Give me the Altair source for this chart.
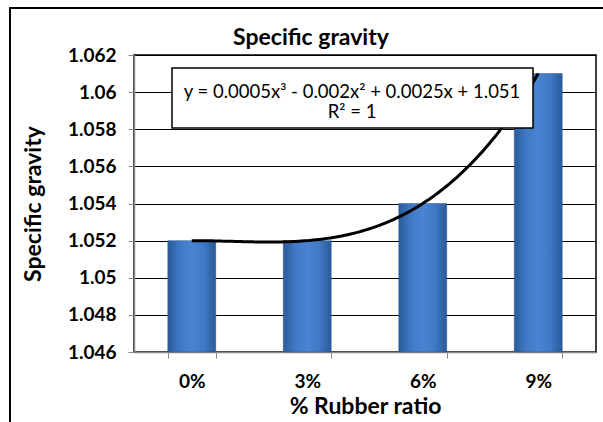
import altair as alt
import pandas as pd
import numpy as np

categories = ["0%", "3%", "6%", "9%"]
values = [1.052, 1.052, 1.054, 1.061]
# trendline coefficients shown in the chart: y = a x^3 + b x^2 + c x + d
coeffs = [0.0005, -0.002, 0.0025, 1.051]
y_ticks = [1.046, 1.048, 1.05, 1.052, 1.054, 1.056, 1.058, 1.06, 1.062]
title_text = "Specific gravity"
eq_text = "y = 0.0005x³ - 0.002x² + 0.0025x + 1.051"
r2_text = "R² = 1"

FONT = "Lato"

bars_df = pd.DataFrame({"cat": categories, "val": values})
xs = np.linspace(1, len(categories), 121)
trend_df = pd.DataFrame({"xq": xs, "yq": np.polyval(coeffs, xs)})

W, H = 462, 297
ydom = [y_ticks[0], y_ticks[-1]]

y_axis = alt.Axis(values=y_ticks, format=".3~f", title="Specific gravity",
                  labelOverlap=False, tickCount=9,
                  titleFont=FONT, titleFontSize=23, titleFontWeight="bold",
                  titleColor="black", titlePadding=22,
                  labelFont=FONT, labelFontSize=19, labelFontWeight="bold",
                  labelColor="black", labelPadding=12,
                  tickSize=6, tickColor="#888888", domainColor="#888888",
                  domainWidth=1.5, gridColor="black", gridWidth=1)
y_scale = alt.Scale(domain=ydom, zero=False, nice=False)

bars = alt.Chart(bars_df).mark_bar(
    color=alt.Gradient(gradient="linear", x1=0, x2=1, y1=0, y2=0,
                       stops=[alt.GradientStop(color="#2b5a98", offset=0),
                              alt.GradientStop(color="#3f79c6", offset=0.25),
                              alt.GradientStop(color="#4a84d2", offset=0.5),
                              alt.GradientStop(color="#3f79c6", offset=0.75),
                              alt.GradientStop(color="#2b5a98", offset=1)]),
    stroke="#2a5590", strokeWidth=0.5
).encode(
    x=alt.X("cat:N", sort=categories,
            scale=alt.Scale(paddingInner=0.585, paddingOuter=0.2925),
            axis=alt.Axis(title="% Rubber ratio", labelAngle=0,
                          titleFont=FONT, titleFontSize=23, titleFontWeight="bold",
                          titleColor="black", titlePadding=4,
                          labelFont=FONT, labelFontSize=19, labelFontWeight="bold",
                          labelColor="black", labelPadding=14,
                          tickSize=6, tickColor="#888888", tickBand="extent",
                          domainColor="#888888", domainWidth=1.5, grid=False)),
    y=alt.Y("val:Q", scale=y_scale, axis=y_axis),
    y2=alt.datum(y_ticks[0]),
)

trend = alt.Chart(trend_df).mark_line(color="black", strokeWidth=3).encode(
    x=alt.X("xq:Q", scale=alt.Scale(domain=[0.5, len(categories) + 0.5], nice=False, zero=False),
            axis=None),
    y=alt.Y("yq:Q", scale=y_scale, axis=y_axis),
)

one = pd.DataFrame({"a": [0]})
box = alt.Chart(one).mark_rect(fill="white", stroke="black", strokeWidth=1.5).encode(
    x=alt.value(38), x2=alt.value(399), y=alt.value(13), y2=alt.value(73))
eq1 = alt.Chart(one).mark_text(font=FONT, fontSize=18.5, color="black",
                               align="center", baseline="middle").encode(
    x=alt.value(218), y=alt.value(37), text=alt.value(eq_text))
eq2 = alt.Chart(one).mark_text(font=FONT, fontSize=18.5, color="black",
                               align="center", baseline="middle").encode(
    x=alt.value(218), y=alt.value(57), text=alt.value(r2_text))
ttl = alt.Chart(one).mark_text(font=FONT, fontSize=23, fontWeight="bold", color="black",
                               align="center", baseline="alphabetic").encode(
    x=alt.value(177), y=alt.value(-10), text=alt.value(title_text))
outer = alt.Chart(one).mark_rect(fill=None, stroke="black", strokeWidth=2).encode(
    x=alt.value(-124), x2=alt.value(800), y=alt.value(-47), y2=alt.value(700))

chart = alt.layer(outer, bars, trend, box, eq1, eq2, ttl).resolve_scale(x="independent").properties(
    width=W, height=H,
    autosize=alt.AutoSizeParams(type="none"),
    padding={"left": 134, "top": 55, "right": 7, "bottom": 70},
    background="white",
).configure_view(stroke="black", strokeWidth=1.5)

chart.save("out.html", embed_options={"renderer": "svg", "actions": False})
